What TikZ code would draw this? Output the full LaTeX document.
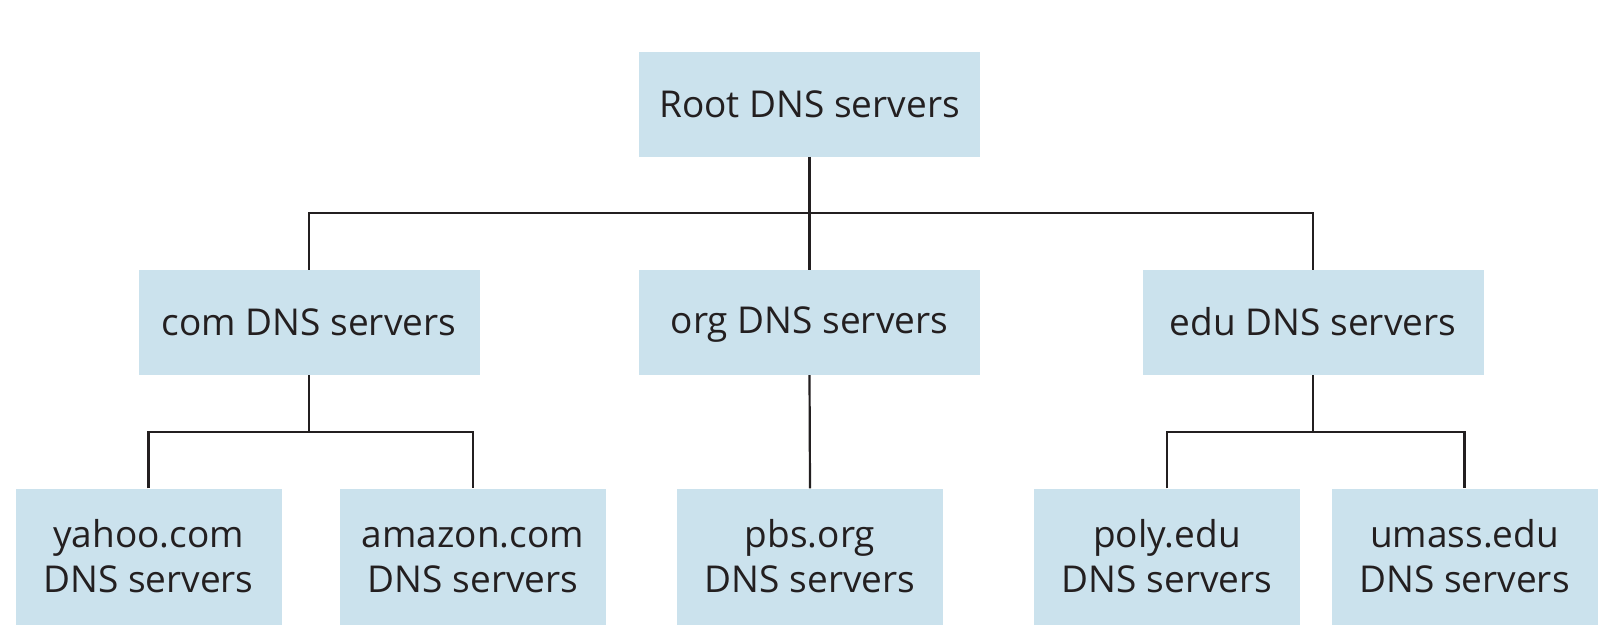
\documentclass[tikz,border=0pt]{standalone}
\usepackage{fontspec}
\setmainfont{Open Sans}
\definecolor{boxfill}{RGB}{203,226,237}
\definecolor{ink}{RGB}{35,31,32}
\newcommand{\hs}{\rule[-4pt]{0pt}{34pt}}
\begin{document}
\begin{tikzpicture}[x=1pt,y=-1pt,
  box/.style={fill=boxfill, inner sep=0pt, minimum width=341pt, minimum height=105pt,
    align=center, font=\fontsize{37}{45}\selectfont, text=ink},
  leaf/.style={box, minimum width=266pt, minimum height=136pt},
  conn/.style={draw=ink, line width=2.2pt}]
\useasboundingbox (0,0) rectangle (1616,644);
\node[box] (root) at (809.5,104.3) {\hs Root DNS servers};
\node[box] (com) at (309,322.5) {\hs com DNS servers};
\node[box] (org) at (809.5,322.5) {\hs org DNS servers};
\node[box] (edu) at (1313,322.5) {\hs edu DNS servers};
\node[leaf] (yahoo) at (148.5,556.5) {\hs yahoo.com\\\hs DNS servers};
\node[leaf] (amazon) at (473,556.5) {\hs amazon.com\\\hs DNS servers};
\node[leaf] (pbs) at (810,556.5) {\hs pbs.org\\\hs DNS servers};
\node[leaf] (poly) at (1167,556.5) {\hs poly.edu\\\hs DNS servers};
\node[leaf] (umass) at (1464.5,556.5) {\hs umass.edu\\\hs DNS servers};
\coordinate (bus) at (809.5,213);
\coordinate (cb) at (309,432);
\coordinate (eb) at (1313,432);
\draw[conn] (root.south) -- (org.north);
\draw[conn] (com.north) |- (bus) -| (edu.north);
\draw[conn] (com.south) -- (cb);
\draw[conn] (yahoo.north) |- (cb) -| (amazon.north);
\draw[conn] (org.south) -- (pbs.north);
\draw[conn] (edu.south) -- (eb);
\draw[conn] (poly.north) |- (eb) -| (umass.north);
\end{tikzpicture}
\end{document}
